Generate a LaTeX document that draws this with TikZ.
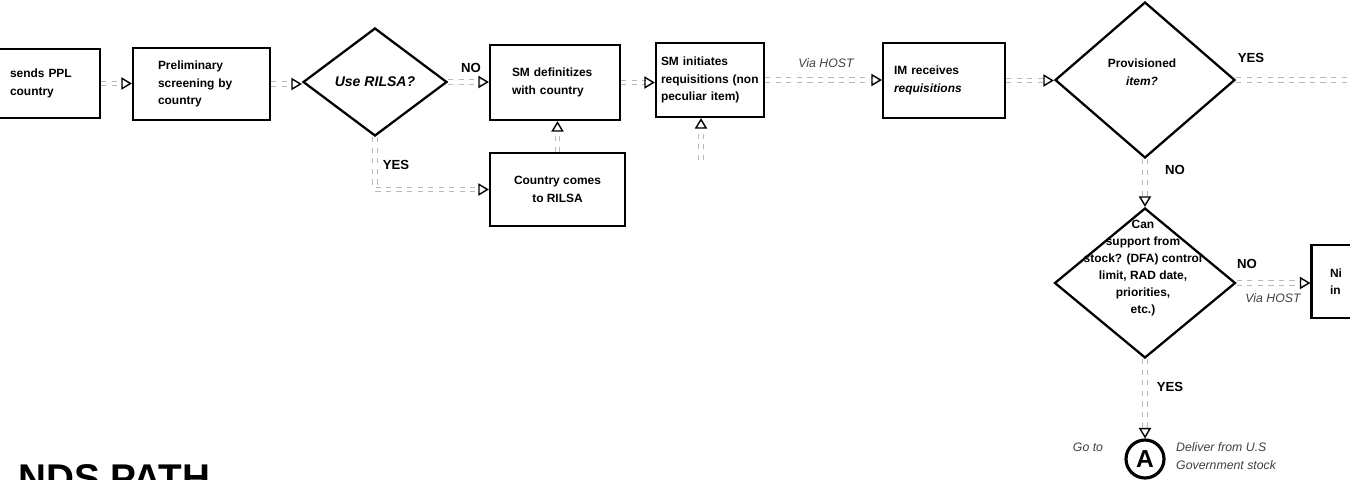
\documentclass[tikz,border=0pt]{standalone}
\usepackage{fontspec}
\setmainfont{Liberation Sans}
\usetikzlibrary{arrows.meta,shapes.geometric}
\begin{document}
\begin{tikzpicture}[x=0.02cm,y=-0.02cm,
 every node/.style={font=\fontsize{6.8}{10}\selectfont\bfseries},
 box/.style={draw, line width=1.3pt, rectangle, inner sep=0pt},
 dia/.style={draw, line width=1.3pt, diamond, inner sep=0pt},
 conn/.style={draw=white, line width=0.2pt,
   -{Triangle[open,length=6pt,width=7pt,line width=0.8pt,color=black]},
   preaction={draw=gray!55, double=white, double distance=2pt, line width=0.5pt, dashed, shorten >=5pt, -}},
 link/.style={draw=gray!55, double=white, double distance=2pt, line width=0.5pt, dashed},
 lbl/.style={font=\fontsize{7.5}{9}\selectfont\bfseries},
 note/.style={font=\fontsize{7}{10}\selectfont\itshape, text=black!75},
]
\useasboundingbox (0,0) rectangle (1350,480);
\clip (0,0) rectangle (1350,480);

% boxes
\node[box, minimum width=2.2cm, minimum height=1.38cm, text width=1.4cm, align=left] (b1) at (45,83.5) {sends PPL\\country};
\node[box, minimum width=2.74cm, minimum height=1.44cm, text width=1.74cm, align=left] (b2) at (201.5,84) {Preliminary\\screening by\\country};
\node[dia, minimum width=2.88cm, minimum height=2.16cm, font=\fontsize{8}{9}\selectfont\bfseries\itshape] (d1) at (375,82) {Use RILSA?};
\node[box, minimum width=2.6cm, minimum height=1.5cm, text width=1.72cm, align=left] (b3) at (555,82.5) {SM definitizes\\with country};
\node[box, minimum width=2.7cm, minimum height=1.46cm, align=center] (b4) at (557.5,189.5) {Country comes\\to RILSA};
\node[box, minimum width=2.16cm, minimum height=1.48cm, text width=1.96cm, align=left] (b5) at (710,80) {SM initiates\\requisitions (non\\peculiar item)};
\node[box, minimum width=2.44cm, minimum height=1.5cm, text width=2.0cm, align=left] (b6) at (944,80.5) {IM receives\\\textit{requisitions}};
\node[dia, minimum width=3.6cm, minimum height=3.12cm] (d2) at (1145,80) {};
\node[align=center] (d2t) at (1142,72) {Provisioned\\\textit{item?}};
\node[dia, minimum width=3.62cm, minimum height=3.0cm] (d3) at (1145,283) {};
\node[align=center, font=\fontsize{6.8}{9.6}\selectfont\bfseries] (d3t) at (1143,268) {Can\\support from\\stock? (DFA) control\\limit, RAD date,\\priorities,\\etc.)};
\node[box, minimum width=1.94cm, minimum height=1.46cm, text width=1.2cm, align=left] (rb) at (1360,281.5) {Ni\\in};
\node[draw, circle, line width=1.8pt, minimum size=0.76cm, inner sep=0pt, font=\fontsize{14}{14}\selectfont\bfseries] (cA) at (1145,459) {A};

% labels
\node[lbl] (no1) at (471,68) {NO};
\node[lbl] (yes1) at (396,165) {YES};
\node[lbl] (yes2) at (1251,58) {YES};
\node[lbl] (no2) at (1175,170) {NO};
\node[lbl] (yes3) at (1170,387) {YES};
\node[lbl] (no3) at (1247,264) {NO};
\node[note] (via1) at (826,63) {Via HOST};
\node[note] (via2) at (1273,298) {Via HOST};
\node[note] (goto) at (1088,447) {Go to};
\node[note, align=left, anchor=west] (deliver) at (1170,456) {Deliver from U.S\\Government stock};
\node[font=\fontsize{22}{22}\selectfont\bfseries, anchor=base west, inner sep=0pt] (title) at (18,491) {NDS PATH};

% connectors
\coordinate (b5in) at (701,160);
\coordinate (d2out) at (1360,80);
\draw[conn] (b1.east) -- (b1.east -| b2.west);
\draw[conn] (b2.east) -- (b2.east -| d1.west);
\draw[conn] (d1.east) -- (d1.east -| b3.west);
\draw[conn] (d1.south) |- (b4.west);
\draw[conn] (b4.north) -- (b4.north |- b3.south);
\draw[conn] (b3.east) -- (b3.east -| b5.west);
\draw[conn] (b5in) -- (b5in |- b5.south);
\draw[conn] (b5.east) -- (b5.east -| b6.west);
\draw[conn] (b6.east) -- (b6.east -| d2.west);
\draw[link] (d2.east) -- (d2out);
\draw[conn] (d2.south) -- (d3.north);
\draw[conn] (d3.east) -- (d3.east -| rb.west);
\draw[conn] (d3.south) -- (cA.north);
\end{tikzpicture}
\end{document}
